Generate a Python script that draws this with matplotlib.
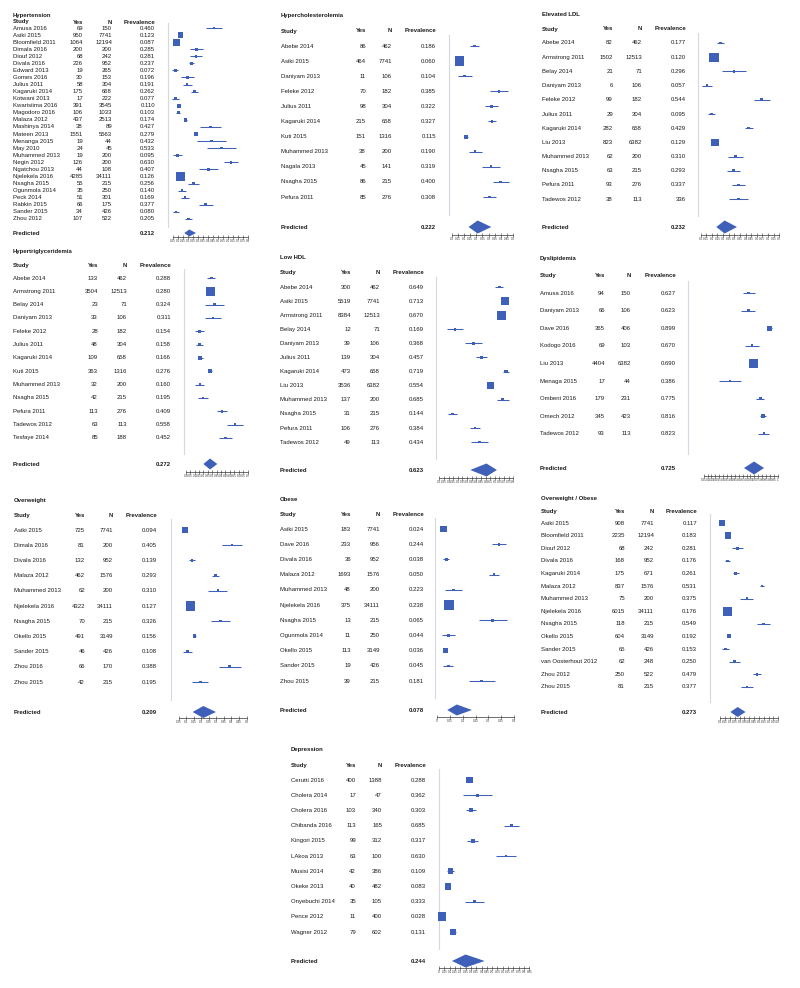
import numpy as np
import matplotlib
matplotlib.use("Agg")
import matplotlib.pyplot as plt

plt.rcParams['font.family'] = ['Liberation Sans', 'DejaVu Sans']

W, H = 800, 988
BLUE = '#3F60B8'
TXT = '#1c1c1c'
VLINE = '#d3d8e4'
FS = 4.3

# ---------------- data ----------------
hyp_study = ["Amusa 2016", "Asiki 2015", "Bloomfield 2011", "Dimala 2016", "Diouf 2012", "Divala 2016",
             "Edward 2013", "Gomes 2016", "Julius 2011", "Kagaruki 2014", "Kotwani 2013", "Kwarisiima 2016",
             "Magodoro 2016", "Malaza 2012", "Mashinya 2014", "Mateen 2013", "Menanga 2015", "May 2010",
             "Muhammed 2013", "Negin 2012", "Ngatchou 2013", "Njelekela 2016", "Nsagha 2015", "Ogunmola 2014",
             "Peck 2014", "Rabkin 2015", "Sander 2015", "Zhou 2012"]
hyp_yes = [69, 950, 1064, 200, 68, 226, 19, 30, 58, 175, 17, 391, 106, 437, 38, 1551, 19, 24, 19, 126, 44,
           4285, 55, 35, 51, 66, 34, 107]
hyp_n = [150, 7741, 12194, 200, 242, 952, 265, 153, 304, 668, 222, 3545, 1033, 2513, 89, 5563, 44, 45, 200,
         200, 108, 34111, 215, 250, 301, 175, 426, 522]
hyp_prev = [0.460, 0.123, 0.087, 0.285, 0.281, 0.237, 0.072, 0.196, 0.191, 0.262, 0.077, 0.110, 0.103, 0.174,
            0.427, 0.279, 0.432, 0.533, 0.095, 0.630, 0.407, 0.126, 0.256, 0.140, 0.169, 0.377, 0.080, 0.205]
hyp_pred = 0.212
hyp_diamond = [0.163, 0.213, 0.28]

chol_study = ["Abebe 2014", "Asiki 2015", "Daniyam 2013", "Feleke 2012", "Julius 2011", "Kagaruki 2014",
              "Kuti 2015", "Muhammed 2013", "Nagala 2013", "Nsagha 2015", "Pefura 2011"]
chol_yes = [86, 464, 11, 70, 98, 215, 151, 38, 45, 86, 85]
chol_n = [462, 7741, 106, 182, 304, 658, 1316, 200, 141, 215, 276]
chol_prev = [0.186, 0.060, 0.104, 0.385, 0.322, 0.327, 0.115, 0.190, 0.319, 0.400, 0.308]
chol_pred = 0.222
chol_diamond = [0.136, 0.21, 0.322]

ldl_study = ["Abebe 2014", "Armstrong 2011", "Belay 2014", "Daniyam 2013", "Feleke 2012", "Julius 2011",
             "Kagaruki 2014", "Liu 2013", "Muhammed 2013", "Nsagha 2015", "Pefura 2011", "Tadewos 2012"]
ldl_yes = [82, 1502, 21, 6, 99, 29, 282, 823, 62, 63, 93, 38]
ldl_n = [462, 12513, 71, 106, 182, 304, 658, 6382, 200, 215, 276, 113]
ldl_prev = [0.177, 0.120, 0.296, 0.057, 0.544, 0.095, 0.429, 0.129, 0.310, 0.293, 0.337, 0.336]
ldl_prev_text = ["0.177", "0.120", "0.296", "0.057", "0.544", "0.095", "0.429", "0.129", "0.310", "0.293",
                 "0.337", "336"]
ldl_pred = 0.232
ldl_diamond = [0.14, 0.214, 0.324]

tg_study = ["Abebe 2014", "Armstrong 2011", "Belay 2014", "Daniyam 2013", "Feleke 2012", "Julius 2011",
            "Kagaruki 2014", "Kuti 2015", "Muhammed 2013", "Nsagha 2015", "Pefura 2011", "Tadewos 2012",
            "Tesfaye 2014"]
tg_yes = [133, 3504, 23, 33, 28, 48, 109, 363, 32, 42, 113, 63, 85]
tg_n = [462, 12513, 71, 106, 182, 304, 658, 1316, 200, 215, 276, 113, 188]
tg_prev = [0.288, 0.280, 0.324, 0.311, 0.154, 0.158, 0.166, 0.276, 0.160, 0.195, 0.409, 0.558, 0.452]
tg_pred = 0.272
tg_diamond = [0.2, 0.275, 0.358]

hdl_study = ["Abebe 2014", "Asiki 2015", "Armstrong 2011", "Belay 2014", "Daniyam 2013", "Julius 2011",
             "Kagaruki 2014", "Liu 2013", "Muhammed 2013", "Nsagha 2015", "Pefura 2011", "Tadewos 2012"]
hdl_yes = [300, 5519, 8384, 12, 39, 139, 473, 3536, 137, 31, 106, 49]
hdl_n = [462, 7741, 12513, 71, 106, 304, 658, 6382, 200, 215, 276, 113]
hdl_prev = [0.649, 0.713, 0.670, 0.169, 0.368, 0.457, 0.719, 0.554, 0.685, 0.144, 0.384, 0.434]
hdl_pred = 0.623
hdl_diamond = [0.335, 0.51, 0.623]

dys_study = ["Amusa 2016", "Daniyam 2013", "Dave 2016", "Kodogo 2016", "Liu 2013", "Menaga 2015",
             "Ombeni 2016", "Omech 2012", "Tadewos 2012"]
dys_yes = [94, 66, 365, 69, 4404, 17, 179, 345, 93]
dys_n = [150, 106, 406, 103, 6382, 44, 231, 423, 113]
dys_prev = [0.627, 0.623, 0.899, 0.670, 0.690, 0.386, 0.775, 0.816, 0.823]
dys_pred = 0.725
dys_diamond = [0.568, 0.697, 0.825]

ow_study = ["Asiki 2015", "Dimala 2016", "Divala 2016", "Malaza 2012", "Muhammed 2013", "Njelekela 2016",
            "Nsagha 2015", "Okello 2015", "Sander 2015", "Zhou 2016", "Zhou 2015"]
ow_yes = [725, 81, 132, 462, 62, 4322, 70, 491, 46, 66, 42]
ow_n = [7741, 200, 952, 1576, 200, 34111, 215, 3149, 426, 170, 215]
ow_prev = [0.094, 0.405, 0.139, 0.293, 0.310, 0.127, 0.326, 0.156, 0.108, 0.388, 0.195]
ow_pred = 0.209
ow_diamond = [0.143, 0.214, 0.298]

ob_study = ["Asiki 2015", "Dave 2016", "Divala 2016", "Malaza 2012", "Muhammed 2013", "Njelekela 2016",
            "Nsagha 2015", "Ogunmola 2014", "Okello 2015", "Sander 2015", "Zhou 2015"]
ob_yes = [183, 233, 36, 1693, 48, 375, 13, 11, 113, 19, 39]
ob_n = [7741, 956, 952, 1576, 200, 34111, 215, 250, 3149, 426, 215]
ob_prev = [0.024, 0.244, 0.038, 0.050, 0.223, 0.238, 0.065, 0.044, 0.036, 0.045, 0.181]
# positions of the markers as drawn in the figure (they differ from the printed column)
ob_plot = [0.024, 0.242, 0.036, 0.222, 0.065, 0.047, 0.217, 0.044, 0.034, 0.044, 0.174]
ob_pred = 0.078
ob_diamond = [0.04, 0.077, 0.136]

owob_study = ["Asiki 2015", "Bloomfield 2011", "Diouf 2012", "Divala 2016", "Kagaruki 2014", "Malaza 2012",
              "Muhammed 2013", "Njelekela 2016", "Nsagha 2015", "Okello 2015", "Sander 2015",
              "van Oosterhout 2012", "Zhou 2012", "Zhou 2015"]
owob_yes = [908, 2235, 68, 168, 175, 837, 75, 6015, 118, 604, 65, 62, 250, 81]
owob_n = [7741, 12194, 242, 952, 671, 1576, 200, 34111, 215, 3149, 426, 248, 522, 215]
owob_prev = [0.117, 0.183, 0.281, 0.176, 0.261, 0.531, 0.375, 0.176, 0.549, 0.192, 0.153, 0.250, 0.479, 0.377]
owob_pred = 0.273
owob_diamond = [0.205, 0.281, 0.362]

dep_study = ["Cerutti 2016", "Cholera 2014", "Cholera 2016", "Chibanda 2016", "Kingori 2015", "LAkoa 2013",
             "Musisi 2014", "Okeke 2013", "Onyebuchi 2014", "Pence 2012", "Wagner 2012"]
dep_yes = [400, 17, 103, 113, 99, 63, 42, 40, 35, 11, 79]
dep_n = [1388, 47, 340, 165, 312, 100, 386, 482, 105, 400, 602]
dep_prev = [0.288, 0.362, 0.303, 0.685, 0.317, 0.630, 0.109, 0.083, 0.333, 0.028, 0.131]
dep_pred = 0.244
dep_diamond = [0.122, 0.25, 0.429]

# ---------------- layout (pixels) ----------------
panels = [
    dict(title="Hypertension", study=hyp_study, yes=hyp_yes, n=hyp_n, prev=hyp_prev, est=hyp_prev,
         pred=hyp_pred, dia=hyp_diamond,
         cols=(13, 83, 112, 155), title_y=15, header_y=22, row0=28, dy=7.07, pred_y=233, axis_y=237,
         vline=168.3, p0=168, slope=100, ticks=(0.05, 0.8), dia_h=7, maxside=9.3, zero="0.0"),
    dict(title="Hypercholesterolemia", study=chol_study, yes=chol_yes, n=chol_n, prev=chol_prev, est=chol_prev,
         pred=chol_pred, dia=chol_diamond,
         cols=(281, 366, 392, 436), title_y=16, header_y=31, row0=46, dy=15.1, pred_y=227, axis_y=235,
         vline=449, p0=452, slope=122, ticks=(0.0, 0.5), dia_h=13, maxside=9.3, zero="0.0"),
    dict(title="Elevated LDL", study=ldl_study, yes=ldl_yes, n=ldl_n, prev=ldl_prev, est=ldl_prev,
         prev_text=ldl_prev_text, pred=ldl_pred, dia=ldl_diamond,
         cols=(542, 613, 642, 686), title_y=15, header_y=29, row0=43, dy=14.2, pred_y=227, axis_y=235,
         vline=698, p0=700.6, slope=112.3, ticks=(0.0, 0.7), dia_h=13, maxside=9.3, zero="0.0"),
    dict(title="Hypertriglyceridemia", study=tg_study, yes=tg_yes, n=tg_n, prev=tg_prev, est=tg_prev,
         pred=tg_pred, dia=tg_diamond,
         cols=(13, 98, 127, 171), title_y=251, header_y=265, row0=278, dy=13.33, pred_y=464, axis_y=472,
         vline=184, p0=185.7, slope=88.3, ticks=(0.0, 0.7), dia_h=11, maxside=9.3, zero="0.0"),
    dict(title="Low HDL", study=hdl_study, yes=hdl_yes, n=hdl_n, prev=hdl_prev, est=hdl_prev,
         pred=hdl_pred, dia=hdl_diamond,
         cols=(280, 351, 380, 424), title_y=257, header_y=272, row0=287, dy=14.1, pred_y=470, axis_y=478,
         vline=436, p0=439.3, slope=92.5, ticks=(0.0, 0.8), dia_h=13, maxside=9.3, zero="0.0"),
    dict(title="Dyslipidemia", study=dys_study, yes=dys_yes, n=dys_n, prev=dys_prev, est=dys_prev,
         pred=dys_pred, dia=dys_diamond,
         cols=(540, 605, 631, 676), title_y=258, header_y=275, row0=293, dy=17.6, pred_y=468, axis_y=476,
         vline=688, p0=699.7, slope=78, ticks=(0.05, 1.0), dia_h=13, maxside=9.3, zero="0.0"),
    dict(title="Overweight", study=ow_study, yes=ow_yes, n=ow_n, prev=ow_prev, est=ow_prev,
         pred=ow_pred, dia=ow_diamond,
         cols=(14, 85, 113, 157), title_y=500, header_y=515, row0=530, dy=15.2, pred_y=712, axis_y=718,
         vline=171, p0=171, slope=151, ticks=(0.05, 0.5), dia_h=12, maxside=9.3, zero="0.0"),
    dict(title="Obese", study=ob_study, yes=ob_yes, n=ob_n, prev=ob_prev, est=ob_plot,
         pred=ob_pred, dia=ob_diamond,
         cols=(280, 351, 380, 424), title_y=499, header_y=514, row0=529, dy=15.2, pred_y=710, axis_y=717,
         vline=434.7, p0=437, slope=256.7, ticks=(0.0, 0.3), dia_h=11, maxside=9.3, zero="0"),
    dict(title="Overweight / Obese", study=owob_study, yes=owob_yes, n=owob_n, prev=owob_prev, est=owob_prev,
         pred=owob_pred, dia=owob_diamond,
         cols=(541, 625, 654, 697), title_y=498, header_y=511, row0=523, dy=12.6, pred_y=712, axis_y=718,
         vline=709.7, p0=710.5, slope=96.8, ticks=(0.1, 0.7), dia_h=10, maxside=9.0, zero="0.0"),
    dict(title="Depression", study=dep_study, yes=dep_yes, n=dep_n, prev=dep_prev, est=dep_prev,
         pred=dep_pred, dia=dep_diamond,
         cols=(291, 356, 382, 426), title_y=749, header_y=765, row0=780, dy=15.2, pred_y=961, axis_y=968,
         vline=438.7, p0=439, slope=106.3, ticks=(0.0, 0.85), dia_h=13, maxside=8.7, zero="0"),
]

fig = plt.figure(figsize=(W / 100, H / 100), dpi=100)
fig.patch.set_facecolor('white')
ax0 = fig.add_axes([0, 0, 1, 1])
ax0.set_xlim(0, W)
ax0.set_ylim(H, 0)
ax0.axis('off')

PX2PT = 72 / 100.0


def draw_panel(P):
    sx, yr, nr, pr = P['cols']
    bold = dict(fontsize=FS, fontweight='bold', va='center', color=TXT)
    norm = dict(fontsize=FS, va='center', color=TXT)
    ax0.text(sx, P['title_y'], P['title'], ha='left', **bold)
    hy = P['header_y']
    ax0.text(sx, hy, "Study", ha='left', **bold)
    ax0.text(yr, hy, "Yes", ha='right', **bold)
    ax0.text(nr, hy, "N", ha='right', **bold)
    ax0.text(pr, hy, "Prevalence", ha='right', **bold)
    k = len(P['study'])
    ys = np.array([P['row0'] + i * P['dy'] for i in range(k)])
    ptext = P.get('prev_text', [f"{v:.3f}" for v in P['prev']])
    for i in range(k):
        ax0.text(sx, ys[i], P['study'][i], ha='left', **norm)
        ax0.text(yr, ys[i], str(P['yes'][i]), ha='right', **norm)
        ax0.text(nr, ys[i], str(P['n'][i]), ha='right', **norm)
        ax0.text(pr, ys[i], ptext[i], ha='right', **norm)
    ax0.text(sx, P['pred_y'], "Predicted", ha='left', **bold)
    ax0.text(pr, P['pred_y'], f"{P['pred']:.3f}", ha='right', **bold)

    # forest plot axes
    t0, t1 = P['ticks']
    p0, s = P['p0'], P['slope']
    left = P['vline'] - 1.5
    right = p0 + s * t1 + 2.5
    top = P['header_y']
    bottom = P['axis_y']
    ax = fig.add_axes([left / W, 1 - bottom / H, (right - left) / W, (bottom - top) / H])
    ax.patch.set_visible(False)
    ax.set_xlim((left - p0) / s, (right - p0) / s)
    ax.set_ylim(bottom, top)

    xv = (P['vline'] - p0) / s
    ax.plot([xv, xv], [ys[0] - 0.7 * P['dy'], ys[-1] + 0.6 * (P['pred_y'] - ys[-1])],
            color=VLINE, lw=0.8, zorder=1, clip_on=False)

    est = np.array(P['est'], dtype=float)
    n = np.array(P['n'], dtype=float)
    se = np.sqrt(est * (1 - est) / n)
    lo = np.clip(est - 1.96 * se, 0, None)
    hi = est + 1.96 * se
    ax.hlines(ys, lo, hi, color=BLUE, lw=0.75, zorder=2, clip_on=False)
    w = n / (est * (1 - est))
    side_px = np.maximum(P['maxside'] * (w / w.max()) ** 0.35, 2.6)
    ax.scatter(est, ys, s=(side_px * PX2PT) ** 2, marker='s', color=BLUE, linewidths=0, zorder=3,
               clip_on=False)

    dlo, dmid, dhi = P['dia']
    py, hh = P['pred_y'], P['dia_h'] / 2
    ax.fill([dlo, dmid, dhi, dmid], [py, py - hh, py, py + hh], color=BLUE, lw=0, zorder=3, clip_on=False)

    for sp in ['left', 'top', 'right']:
        ax.spines[sp].set_visible(False)
    ax.spines['bottom'].set_bounds(t0, t1)
    ax.spines['bottom'].set_linewidth(0.5)
    ax.spines['bottom'].set_color('#333333')
    ticks = np.round(np.arange(t0, t1 + 1e-9, 0.05), 2)
    ax.set_xticks(ticks)
    ax.set_xticklabels([P['zero'] if t == 0 else f"{t:g}" for t in ticks], fontsize=2.2, color='#333333')
    ax.tick_params(axis='x', direction='inout', length=2.2, width=0.4, pad=0.6, colors='#333333')
    ax.set_yticks([])


for P in panels:
    draw_panel(P)

fig.savefig("out.png", dpi=100, facecolor='white')
